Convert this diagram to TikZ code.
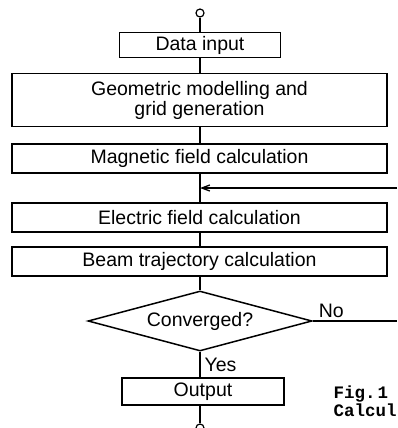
\documentclass[tikz,border=0pt]{standalone}
\usepackage{fontspec}
\setmainfont{Liberation Sans}
\newfontfamily\figfont{Liberation Mono}
\usetikzlibrary{shapes.geometric,arrows.meta}
\begin{document}
\begin{tikzpicture}[x=1pt,y=-1pt,
  line width=1.3pt,
  box/.style={draw, line width=1.5pt, inner sep=0pt, align=center,
    font=\fontsize{19.5}{20}\selectfont},
  widebox/.style={box, minimum width=375pt, minimum height=29pt},
  term/.style={draw, circle, line width=1.2pt, minimum size=8pt, inner sep=0pt},
  lbl/.style={inner sep=0pt, font=\fontsize{19.5}{20}\selectfont},
  figlbl/.style={inner sep=0pt, anchor=west, font=\figfont\bfseries\fontsize{17.5}{17.5}\selectfont},
  link/.style={line width=1.3pt}
]
\useasboundingbox (0,0) rectangle (397,428);
\node[term] (start) at (200,13) {};
\node[box, minimum width=161pt, minimum height=25pt] (data) at (200,45) {Data input};
\node[box, minimum width=375pt, minimum height=53pt] (geo) at (199.5,100) {Geometric modelling and\\grid generation};
\node[widebox] (mag) at (199.5,158.5) {Magnetic field calculation};
\node[widebox] (ele) at (199.5,217.5) {Electric field calculation};
\node[widebox] (beam) at (199.5,261.5) {Beam trajectory calculation};
\node[draw, diamond, line width=1.5pt, inner sep=0pt, minimum width=224pt, minimum height=60pt, aspect=3.7,
  font=\fontsize{19.5}{20}\selectfont] (conv) at (200,321) {Converged?};
\node[box, minimum width=162pt, minimum height=27pt] (out) at (203,391.5) {Output};
\node[term] (stop) at (200,428) {};
\coordinate (fbin) at (397,188);
\coordinate (fbjoin) at (200,188);
\coordinate (noend) at (397,321);
\draw[link] (start) -- (data);
\draw[link] (data) -- (geo.north -| data.south);
\draw[link] (geo.south -| data.south) -- (mag.north -| data.south);
\draw[link] (mag.south -| data.south) -- (ele.north -| data.south);
\draw[link] (ele.south -| data.south) -- (beam.north -| data.south);
\draw[link] (beam.south -| data.south) -- (conv.north);
\draw[link] (conv.south) -- node[lbl, anchor=west, xshift=4pt] (yes) {Yes} (conv.south |- out.north);
\draw[link] (conv.south |- out.south) -- (stop);
\draw[link, -{Straight Barb[length=8pt,width=6pt]}] (fbin) -- (fbjoin);
\draw[link] (conv.east) -- node[lbl, pos=0.22, above=3pt] (no) {No} (noend);
\node[figlbl] (fig) at (333,394) {Fig.\kern2pt1};
\node[figlbl] (cap) at (333,410) {Calcul};
\end{tikzpicture}
\end{document}
